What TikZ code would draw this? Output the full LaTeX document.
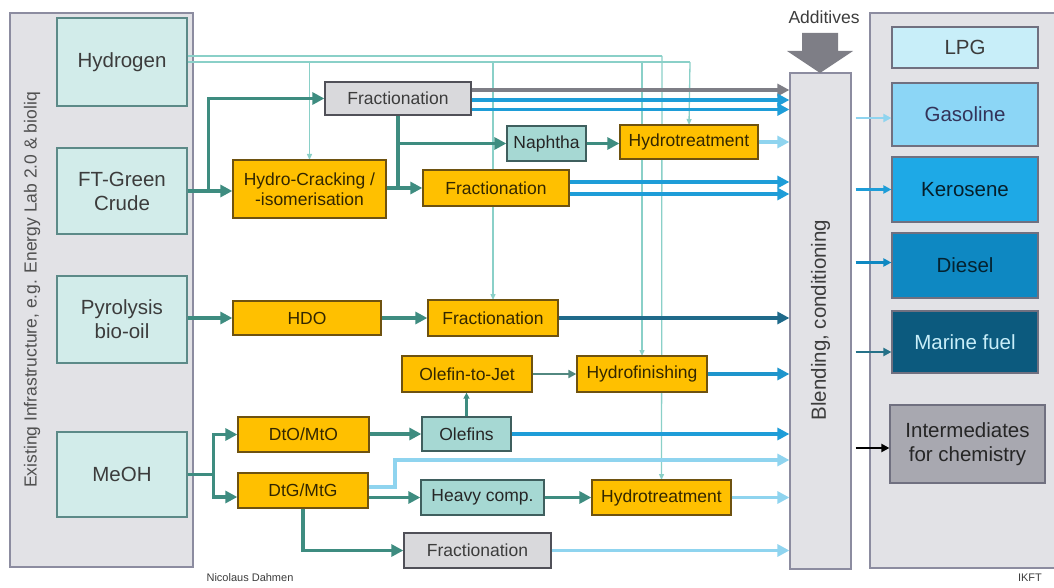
\documentclass[tikz,border=0pt]{standalone}
\usepackage{fontspec}
\setmainfont{Liberation Sans}
\usetikzlibrary{arrows.meta}
\definecolor{panelf}{HTML}{E2E2E6}
\definecolor{panelb}{HTML}{8C8CA0}
\definecolor{srcf}{HTML}{D2ECEA}
\definecolor{srcb}{HTML}{5C8A88}
\definecolor{orng}{HTML}{FFC000}
\definecolor{orngb}{HTML}{6E5210}
\definecolor{grayf}{HTML}{D9D9DC}
\definecolor{grayb}{HTML}{505058}
\definecolor{tealf}{HTML}{A6D8D3}
\definecolor{tealb}{HTML}{3F5F5E}
\definecolor{grn}{HTML}{3E8C80}
\definecolor{hyd}{HTML}{8AD0C8}
\definecolor{blu}{HTML}{1E9DD8}
\definecolor{lblu}{HTML}{8FD4EF}
\definecolor{dblu}{HTML}{1F6A8A}
\definecolor{garr}{HTML}{7E7E86}
\definecolor{lpgf}{HTML}{C8EEF9}
\definecolor{gasf}{HTML}{8CD6F6}
\definecolor{kerf}{HTML}{1EA9E6}
\definecolor{diesf}{HTML}{0E88C2}
\definecolor{marf}{HTML}{0C5A7E}
\definecolor{intf}{HTML}{A8A8B0}
\definecolor{txtd}{HTML}{3C3C3C}
\begin{document}
\begin{tikzpicture}[x=1pt,y=-1pt,
  panel/.style={fill=panelf,draw=panelb,line width=1.2pt},
  src/.style={draw=srcb,fill=srcf,line width=1.3pt,inner sep=0pt,align=center,text=txtd,font=\fontsize{20.5}{24}\selectfont},
  proc/.style={draw=orngb,fill=orng,line width=1.3pt,inner sep=0pt,align=center,text=black!80!orng,font=\fontsize{17.5}{20}\selectfont},
  gproc/.style={proc,draw=grayb,fill=grayf,text=txtd},
  tproc/.style={proc,draw=tealb,fill=tealf,text=black!85},
  prod/.style={draw=panelb!80!black,line width=1.2pt,inner sep=0pt,align=center,minimum width=146pt,font=\fontsize{20.5}{24}\selectfont},
  gflow/.style={draw=grn,line width=3.3pt,-{Triangle[length=12pt,width=12pt]}},
  gline/.style={draw=grn,line width=3.3pt},
  hline/.style={draw=hyd,line width=1.3pt},
  harr/.style={hline,-{Triangle[length=6pt,width=5pt]}},
  barr/.style={line width=3.3pt,-{Triangle[length=12pt,width=12pt]}},
  parr/.style={line width=2.2pt,-{Triangle[length=8pt,width=8pt]}}
]
\useasboundingbox (0,0) rectangle (1054,588);
% panels
\draw[panel] (10,13) rectangle (193,567);
\node[rotate=90,text=txtd!90,font=\fontsize{17.5}{20}\selectfont] (infra) at (32,290) {Existing Infrastructure, e.g. Energy Lab 2.0 \& bioliq};
\fill[panelf] (870,13) rectangle (1054,568);
\draw[panelb,line width=1.2pt] (1054,13) -- (870,13) -- (870,568) -- (1054,568);

% sources
\node[src,minimum width=130pt,minimum height=88pt] (hydn) at (122,62) {Hydrogen};
\node[src,minimum width=130pt,minimum height=86pt] (ft) at (122,191) {FT-Green\\Crude};
\node[src,minimum width=130pt,minimum height=87pt] (pyr) at (122,319.5) {Pyrolysis\\bio-oil};
\node[src,minimum width=130pt,minimum height=85pt] (meoh) at (122,474.5) {MeOH};

% hydrogen distribution (drawn first, behind boxes)
\coordinate (hA) at ([yshift=6pt]hydn.east);
\coordinate (hB) at (hydn.east);
\coordinate (cA) at (662,56);
\coordinate (cB) at (690,62);
\draw[hline] (hA) -- (cA);
\draw[hline] (hB) -- (cB);

% Blending
\node[draw=panelb,fill=panelf,line width=1.2pt,minimum width=61pt,minimum height=496pt,inner sep=0pt] (blend) at (820.5,321) {};
\node[rotate=90,text=txtd,font=\fontsize{20.5}{24}\selectfont] (blendt) at (820.5,320) {Blending, conditioning};
\node[text=txtd,font=\fontsize{17.5}{20}\selectfont] (add) at (824,17) {Additives};
\fill[garr] (802,33) -- (838,33) -- (838,51) -- (853,51) -- (820,73) -- (787,51) -- (802,51) -- cycle;

% hydrogen drops
\draw[harr] (cA) -- (661.5,480);
\draw[harr] (cB) -- (689,125);
\draw[harr] (309.5,62) -- (309.5,160);
\draw[harr] (493,62) -- (493,300);
\draw[harr] (642,62) -- (642,356);

% process boxes
\node[gproc,minimum width=146pt,minimum height=33pt] (frac1) at (398,98.5) {Fractionation};
\node[proc,minimum width=153pt,minimum height=58pt] (hc) at (309.5,189) {Hydro-Cracking /\\-isomerisation};
\node[tproc,minimum width=79pt,minimum height=35pt] (naph) at (546.5,143.5) {Naphtha};
\node[proc,minimum width=138pt,minimum height=34pt] (ht1) at (689,142) {Hydrotreatment};
\node[proc,minimum width=146pt,minimum height=36pt] (frac2) at (496,188) {Fractionation};
\node[proc,minimum width=148pt,minimum height=34pt] (hdo) at (307,318) {HDO};
\node[proc,minimum width=130pt,minimum height=36pt] (frac3) at (493,318) {Fractionation};
\node[proc,minimum width=130pt,minimum height=36pt] (otj) at (467,374) {Olefin-to-Jet};
\node[proc,minimum width=130pt,minimum height=36pt] (hf) at (642,374) {Hydrofinishing};
\node[tproc,minimum width=89pt,minimum height=34pt] (olef) at (466.5,434) {Olefins};
\node[proc,minimum width=131pt,minimum height=35pt] (dto) at (303.5,434.5) {DtO/MtO};
\node[proc,minimum width=130pt,minimum height=35pt] (dtg) at (303,490.5) {DtG/MtG};
\node[tproc,minimum width=123pt,minimum height=35pt] (heavy) at (482.5,497.5) {Heavy comp.};
\node[proc,minimum width=139pt,minimum height=35pt] (ht2) at (661.5,497.5) {Hydrotreatment};
\node[gproc,minimum width=147pt,minimum height=35pt] (frac4) at (477.5,550.5) {Fractionation};

% green process flows
\coordinate (b1) at ([xshift=21pt]ft.east);
\draw[gflow] (ft.east) -- (ft.east -| hc.west);
\draw[gflow] (b1) |- (frac1.west);
\draw[gline] (frac1.south) -- (frac1.south |- frac2.west);
\draw[gflow] (hc.east |- frac2.west) -- (frac2.west);
\draw[gflow] (frac1.south |- naph.west) -- (naph.west);
\draw[gflow] (naph.east) -- (naph.east -| ht1.west);
\draw[gflow] (pyr.east |- hdo.west) -- (hdo.west);
\draw[gflow] (hdo.east) -- (hdo.east -| frac3.west);
\coordinate (b2) at ([xshift=26pt]meoh.east);
\draw[gline] (meoh.east) -- (b2);
\draw[gflow] (b2) |- (dto.west);
\draw[gflow] (b2) |- ([yshift=-6.5pt]dtg.west);
\draw[gflow] (dto.east |- olef.west) -- (olef.west);
\draw[draw=grn,line width=2.4pt,-{Triangle[length=6pt,width=6pt]}] (olef.north) -- (olef.north |- otj.south);
\draw[draw=grn!70!gray,line width=2pt,-{Triangle[length=8pt,width=8pt]}] (otj.east) -- (otj.east -| hf.west);
\draw[gflow] (dtg.east |- heavy.west) -- (heavy.west);
\draw[gflow] (heavy.east) -- (ht2.west);
\draw[gflow] (dtg.south) |- (frac4.west);

% flows into blending
\draw[barr,garr] ([yshift=8.5pt]frac1.east) -- ([yshift=8.5pt]frac1.east -| blend.west);
\draw[barr,blu] ([yshift=-1.5pt]frac1.east) -- ([yshift=-1.5pt]frac1.east -| blend.west);
\draw[barr,blu] ([yshift=-11pt]frac1.east) -- ([yshift=-11pt]frac1.east -| blend.west);
\draw[barr,lblu] (ht1.east) -- (ht1.east -| blend.west);
\draw[barr,blu] ([yshift=6pt]frac2.east) -- ([yshift=6pt]frac2.east -| blend.west);
\draw[barr,blu] ([yshift=-6pt]frac2.east) -- ([yshift=-6pt]frac2.east -| blend.west);
\draw[barr,dblu] (frac3.east) -- (frac3.east -| blend.west);
\draw[barr,blu!85!dblu] (hf.east) -- (hf.east -| blend.west);
\draw[barr,blu] (olef.east) -- (olef.east -| blend.west);
\coordinate (lb1) at (395,460);
\draw[barr,lblu] ([yshift=3.5pt]dtg.east) -| (lb1) -- (lb1 -| blend.west);
\draw[barr,lblu] (ht2.east) -- (ht2.east -| blend.west);
\draw[barr,lblu] (frac4.east) -- (frac4.east -| blend.west);

% products
\node[prod,fill=lpgf,minimum height=41pt,text=txtd] (lpg) at (965,47.5) {LPG};
\node[prod,fill=gasf,minimum height=63pt,text=black!75!blue!60!gray] (gas) at (965,114.5) {Gasoline};
\node[prod,fill=kerf,minimum height=65pt,text=black!80!blu] (ker) at (965,189.5) {Kerosene};
\node[prod,fill=diesf,minimum height=65pt,text=black!75!diesf] (dies) at (965,265.5) {Diesel};
\node[prod,fill=marf,minimum height=62pt,text=lpgf] (mar) at (965,342) {Marine fuel};
\node[prod,fill=intf,minimum width=155pt,minimum height=78pt,text=black!85] (inter) at (967.5,444) {Intermediates\\for chemistry};

\draw[parr,lblu] ([xshift=4pt,yshift=-3.5pt]blend.east |- gas.west) -- ([yshift=-3.5pt]gas.west);
\draw[parr,blu] ([xshift=4pt]blend.east |- ker.west) -- (ker.west);
\draw[parr,diesf] ([xshift=4pt,yshift=3pt]blend.east |- dies.west) -- ([yshift=3pt]dies.west);
\draw[parr,dblu!80!grn] ([xshift=4pt,yshift=-10pt]blend.east |- mar.west) -- ([yshift=-10pt]mar.west);
\draw[parr,black] ([xshift=4pt,yshift=-4pt]blend.east |- inter.west) -- ([yshift=-4pt]inter.west);

% footer
\node[text=txtd,font=\fontsize{11}{13}\selectfont] (auth) at (250,578) {Nicolaus Dahmen};
\node[text=txtd,font=\fontsize{11}{13}\selectfont] (ikft) at (1030,578) {IKFT};
\end{tikzpicture}
\end{document}
